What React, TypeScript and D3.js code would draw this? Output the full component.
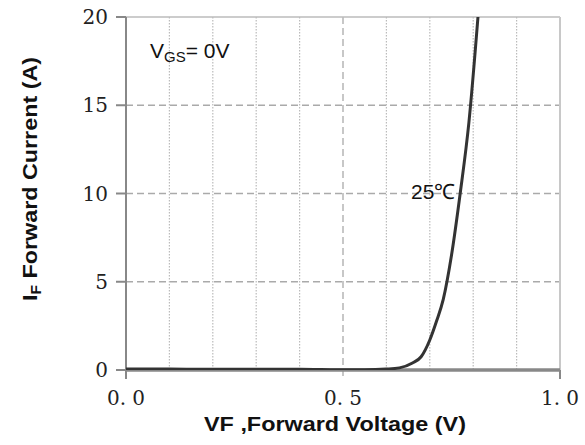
import React from 'react';
import * as d3 from 'd3';

const vf = [0, 0.1, 0.2, 0.3, 0.4, 0.45, 0.5, 0.55, 0.6, 0.63, 0.66, 0.68, 0.7, 0.716, 0.731, 0.75, 0.77, 0.79, 0.811];
const iF = [0.05, 0.05, 0.04, 0.04, 0.04, 0.03, 0.01, 0.01, 0.05, 0.12, 0.4, 0.75, 1.7, 2.8, 4.0, 6.5, 10, 14, 20];
const xMajor = [0, 0.5, 1.0];
const xLabels = ['0. 0', '0. 5', '1. 0'];
const xMinor = [0.1, 0.2, 0.3, 0.4, 0.6, 0.7, 0.8, 0.9];
const yTicks = [0, 5, 10, 15, 20];

const W = 585;
const H = 445;
const LEFT = 126;
const RIGHT = 560;
const TOP = 17;
const BOTTOM = 370;

const App = () => {
  const x = d3.scaleLinear().domain([0, 1]).range([LEFT, RIGHT]);
  const y = d3.scaleLinear().domain([0, 20]).range([BOTTOM, TOP]);
  const pts = vf.map((v, i) => [v, iF[i]] as [number, number]);
  const line = d3.line<[number, number]>().x((d) => x(d[0])).y((d) => y(d[1])).curve(d3.curveMonotoneX);

  const serif = '"DejaVu Serif", "Liberation Serif", serif';
  const sans = '"Liberation Sans", Arial, sans-serif';

  return (
    <svg width={W} height={H} style={{ position: 'absolute', left: 0, top: 0 }}>
      <rect width={W} height={H} fill="#fff" />
      <defs>
        <clipPath id="plot">
          <rect x={LEFT} y={TOP} width={RIGHT - LEFT} height={BOTTOM - TOP} />
        </clipPath>
      </defs>

      {/* minor dotted grid */}
      {xMinor.map((v) => (
        <line key={v} x1={x(v)} x2={x(v)} y1={TOP} y2={BOTTOM} stroke="#bbb" strokeWidth={1.2} strokeDasharray="1.5,1.5" />
      ))}
      {/* major dashed grid */}
      <line x1={x(0.5)} x2={x(0.5)} y1={TOP} y2={BOTTOM + 9} stroke="#aaa" strokeWidth={1.3} strokeDasharray="7,4" />
      {yTicks.slice(1, 4).map((v) => (
        <line key={v} x1={LEFT} x2={RIGHT} y1={y(v)} y2={y(v)} stroke="#aaa" strokeWidth={1.3} strokeDasharray="7,4" />
      ))}
      {/* frame */}
      <line x1={LEFT} x2={RIGHT} y1={TOP} y2={TOP} stroke="#bbb" strokeWidth={1.5} />
      <line x1={RIGHT} x2={RIGHT} y1={TOP} y2={BOTTOM} stroke="#c8c8c8" strokeWidth={2} />
      <line x1={LEFT} x2={LEFT} y1={TOP} y2={BOTTOM + 9} stroke="#888" strokeWidth={2} />
      <line x1={LEFT} x2={RIGHT} y1={BOTTOM} y2={BOTTOM} stroke="#888" strokeWidth={3.5} />
      <line x1={RIGHT} x2={RIGHT} y1={BOTTOM} y2={BOTTOM + 9} stroke="#888" strokeWidth={2} />
      {yTicks.map((v) => (
        <line key={v} x1={LEFT - 10} x2={LEFT} y1={y(v)} y2={y(v)} stroke="#888" strokeWidth={2} />
      ))}

      {/* curve */}
      <path d={line(pts) ?? ''} fill="none" stroke="#333" strokeWidth={3} clipPath="url(#plot)" />

      {/* tick labels */}
      {yTicks.map((v) => (
        <text key={v} x={LEFT - 18} y={y(v)} textAnchor="end" dominantBaseline="central" fontFamily={serif} fontSize={20} fill="#222">
          {v}
        </text>
      ))}
      {xMajor.map((v, i) => (
        <text key={v} x={x(v)} y={405} textAnchor="middle" fontFamily={serif} fontSize={20} fill="#222">
          {xLabels[i]}
        </text>
      ))}

      {/* annotations */}
      <text x={150} y={58} fontFamily={sans} fontSize={21} fill="#111">
        V<tspan fontSize={15} dy={4}>GS</tspan>
        <tspan dy={-4}>= 0V</tspan>
      </text>
      <text x={411} y={199} fontFamily={sans} fontSize={21} fill="#111">
        25℃
      </text>

      {/* axis titles */}
      <text x={335} y={431} textAnchor="middle" fontFamily={sans} fontSize={20} fontWeight="bold" fill="#111" textLength={262} lengthAdjust="spacingAndGlyphs">
        VF ,Forward Voltage (V)
      </text>
      <text transform={`translate(37,${179}) rotate(-90)`} textAnchor="middle" fontFamily={sans} fontSize={21} fontWeight="bold" fill="#111" textLength={244} lengthAdjust="spacingAndGlyphs">
        I<tspan fontSize={14} dy={4}>F</tspan>
        <tspan dy={-4}> Forward Current (A)</tspan>
      </text>
    </svg>
  );
};

export default App;
